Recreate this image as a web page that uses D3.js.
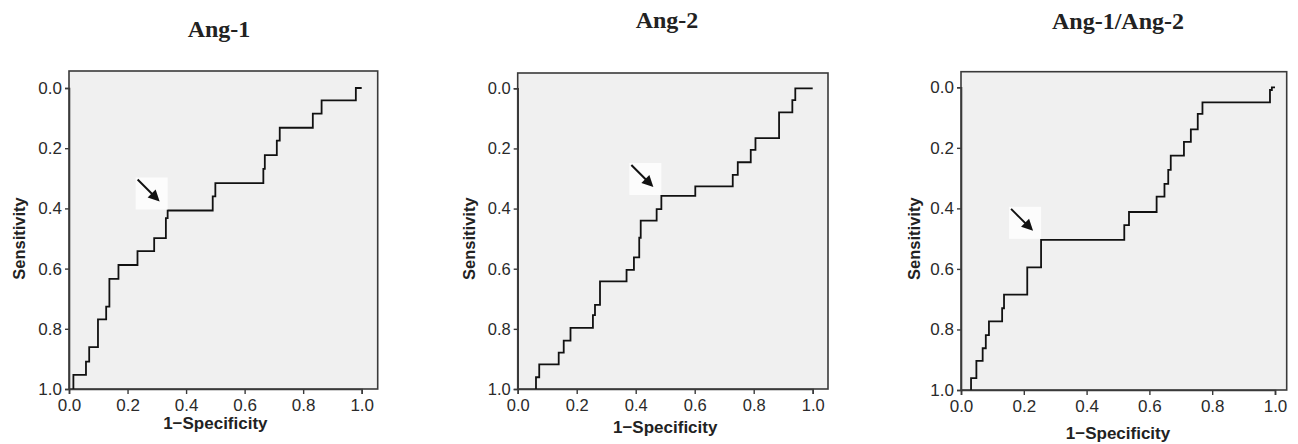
<!DOCTYPE html>
<html>
<head>
<meta charset="utf-8">
<script src="https://d3js.org/d3.v7.min.js"></script>
<style>
  body { margin: 0; background: #fff; }
  .tick text { font-family: "Liberation Sans", Arial, sans-serif; fill: #2a2a2a; }
</style>
</head>
<body>
<div id="my_dataviz"></div>

<script>
// ROC step curves (x = 1-specificity, y = sensitivity)
var ang1Fpr  = [0.015, 0.015, 0.058, 0.069, 0.099, 0.127, 0.138, 0.169, 0.234, 0.291, 0.331, 0.337, 0.491, 0.500, 0.664, 0.669, 0.710, 0.720, 0.833, 0.863, 0.980, 1.000];
var ang1Sens = [1.000, 0.953, 0.909, 0.861, 0.769, 0.726, 0.634, 0.588, 0.542, 0.499, 0.432, 0.407, 0.360, 0.316, 0.269, 0.223, 0.175, 0.132, 0.085, 0.041, 0.000, 0.000];

var ang2Fpr  = [0.062, 0.062, 0.073, 0.139, 0.156, 0.179, 0.255, 0.262, 0.279, 0.369, 0.394, 0.412, 0.417, 0.471, 0.487, 0.602, 0.729, 0.746, 0.790, 0.806, 0.886, 0.931, 0.941, 1.000];
var ang2Sens = [1.000, 0.961, 0.918, 0.879, 0.839, 0.797, 0.754, 0.720, 0.642, 0.604, 0.562, 0.497, 0.440, 0.402, 0.358, 0.326, 0.288, 0.246, 0.205, 0.166, 0.080, 0.039, 0.000, 0.000];

var ratioFpr  = [0.032, 0.032, 0.049, 0.069, 0.079, 0.089, 0.131, 0.137, 0.211, 0.255, 0.520, 0.535, 0.623, 0.648, 0.660, 0.668, 0.710, 0.732, 0.754, 0.769, 0.984, 0.990, 1.000];
var ratioSens = [1.000, 0.961, 0.904, 0.862, 0.819, 0.773, 0.730, 0.685, 0.595, 0.504, 0.455, 0.412, 0.361, 0.319, 0.273, 0.226, 0.180, 0.139, 0.088, 0.050, 0.009, 0.000, 0.000];

// cut-off points marked by the arrows
var cutFpr  = [0.337, 0.487, 0.255];
var cutSens = [0.407, 0.358, 0.504];

var titles = ["Ang-1", "Ang-2", "Ang-1/Ang-2"];
var tickValues = [0, 0.2, 0.4, 0.6, 0.8, 1.0];

// panel placement in pixels
var panels = [
  {fpr: ang1Fpr,  sens: ang1Sens,  x0: 69,    x1: 361.7, right: 377.7, y0: 88,   y1: 389, top: 71,   titleX: 219,  titleY: 37, ylabX: 19,   xlabY: 429, fs: 17},
  {fpr: ang2Fpr,  sens: ang2Sens,  x0: 517.7, x1: 812.7, right: 828,   y0: 88.3, y1: 389, top: 73,   titleX: 667,  titleY: 28, ylabX: 469,  xlabY: 433, fs: 16.5},
  {fpr: ratioFpr, sens: ratioSens, x0: 961,   x1: 1275,  right: 1286.7, y0: 87.3, y1: 390, top: 71.7, titleX: 1118, titleY: 29, ylabX: 914,  xlabY: 439, fs: 17}
];

var svg = d3.select("#my_dataviz")
  .append("svg")
    .attr("width", 1298)
    .attr("height", 444);

panels.forEach(function(p, i) {
  var x = d3.scaleLinear().domain([0, 1]).range([p.x0, p.x1]);
  var y = d3.scaleLinear().domain([0, 1]).range([p.y0, p.y1]);

  var g = svg.append("g");

  // grey plot frame
  g.append("rect")
    .attr("x", p.x0)
    .attr("y", p.top)
    .attr("width", p.right - p.x0)
    .attr("height", p.y1 - p.top)
    .style("fill", "#f0f0f0")
    .style("stroke", "#3a3a3a")
    .style("stroke-width", 1.6);

  // axes
  var xAxis = g.append("g")
    .attr("transform", "translate(0," + p.y1 + ")")
    .call(d3.axisBottom(x).tickValues(tickValues).tickFormat(d3.format(".1f")).tickSizeOuter(0).tickSize(5).tickPadding(5));
  var yAxis = g.append("g")
    .attr("transform", "translate(" + p.x0 + ",0)")
    .call(d3.axisLeft(y).tickValues(tickValues).tickFormat(d3.format(".1f")).tickSizeOuter(0).tickSize(4).tickPadding(3));
  [xAxis, yAxis].forEach(function(a) {
    a.select(".domain").style("stroke", "#3a3a3a").style("stroke-width", 1.6);
    a.selectAll(".tick line").style("stroke", "#3a3a3a").style("stroke-width", 1.4);
    a.selectAll(".tick text").style("font-size", p.fs + "px");
  });

  // ROC curve
  var pts = p.fpr.map(function(d, j) { return [d, p.sens[j]]; });
  g.append("path")
    .datum(pts)
    .attr("fill", "none")
    .attr("stroke", "#111")
    .attr("stroke-width", 1.8)
    .attr("d", d3.line()
      .curve(d3.curveStepAfter)
      .x(function(d) { return x(d[0]); })
      .y(function(d) { return y(d[1]); }));

  // arrow pointing at the cut-off
  var tx = x(cutFpr[i]) - 8, ty = y(cutSens[i]) - 9;
  g.append("rect")
    .attr("x", tx - 24)
    .attr("y", ty - 24)
    .attr("width", 32)
    .attr("height", 32)
    .style("fill", "#fcfcfc");
  g.append("line")
    .attr("x1", tx - 22).attr("y1", ty - 22)
    .attr("x2", tx - 7).attr("y2", ty - 7)
    .style("stroke", "#111").style("stroke-width", 2);
  g.append("path")
    .attr("d", "M" + tx + "," + ty + " L" + (tx - 12) + "," + (ty - 4) + " L" + (tx - 4) + "," + (ty - 12) + " Z")
    .style("fill", "#111");

  // titles and axis labels
  svg.append("text")
    .attr("x", p.titleX)
    .attr("y", p.titleY)
    .style("text-anchor", "middle")
    .style("font-family", "'Liberation Serif', 'Times New Roman', serif")
    .style("font-weight", "bold")
    .style("font-size", "24px")
    .style("fill", "#222")
    .text(titles[i]);

  svg.append("text")
    .attr("transform", "translate(" + p.ylabX + "," + ((p.y0 + p.y1) / 2) + ") rotate(-90)")
    .attr("dy", "0.35em")
    .style("text-anchor", "middle")
    .style("font-family", "'Liberation Sans', Arial, sans-serif")
    .style("font-weight", "bold")
    .style("font-size", "16.5px")
    .style("fill", "#222")
    .text("Sensitivity");

  svg.append("text")
    .attr("x", (p.x0 + p.x1) / 2)
    .attr("y", p.xlabY)
    .style("text-anchor", "middle")
    .style("font-family", "'Liberation Sans', Arial, sans-serif")
    .style("font-weight", "bold")
    .style("font-size", "17px")
    .style("fill", "#222")
    .text("1\u2212Specificity");
});
</script>
</body>
</html>
